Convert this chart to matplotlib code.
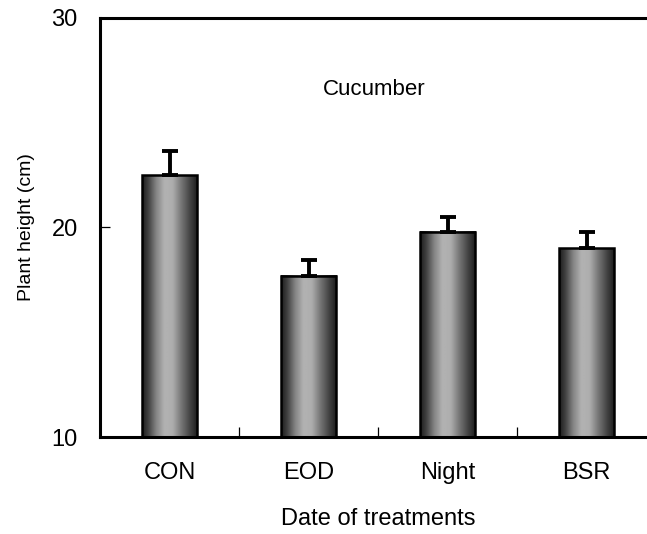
import numpy as np
import matplotlib.pyplot as plt
from matplotlib.patches import Rectangle

plt.rcParams['font.family'] = ['Liberation Sans', 'DejaVu Sans']

# Plant height per treatment (cm) and standard errors
treatments = ['CON', 'EOD', 'Night', 'BSR']
heights = [22.5, 17.7, 19.8, 19.0]
errors = [1.15, 0.75, 0.68, 0.8]

fig = plt.figure(figsize=(6.47, 5.34), dpi=100)
ax = fig.add_axes([100 / 647, 97 / 534, 556 / 647, 419 / 534])

x = np.arange(len(treatments))
width = 0.4

# shaded cylinder-look fill: dark edges, light centre
stops = [0.0, 0.1, 0.25, 0.4, 0.55, 0.72, 0.88, 1.0]
tones = [0.12, 0.25, 0.52, 0.70, 0.68, 0.45, 0.25, 0.12]
grad = np.interp(np.linspace(0, 1, 40), stops, tones)[np.newaxis, :]

for xi, h in zip(x, heights):
    x0, x1 = xi - width / 2, xi + width / 2
    ax.imshow(grad, extent=[x0, x1, 10, h], aspect='auto', cmap='gray',
              vmin=0, vmax=1, interpolation='bilinear', zorder=2)
    ax.add_patch(Rectangle((x0, 10), width, h - 10, fill=False,
                           edgecolor='black', linewidth=1.8, zorder=3))

ax.errorbar(x, heights, yerr=[np.zeros(len(errors)), errors], fmt='none',
            ecolor='black', elinewidth=2.8, capsize=6, capthick=2.8, zorder=4)

ax.set_xlim(-0.5, len(treatments) - 0.5)
ax.set_ylim(10, 30)

ax.set_yticks([10, 20, 30])
ax.set_xticks(x)
ax.set_xticklabels(treatments)
ax.set_xticks(np.arange(0.5, len(treatments) - 0.5, 1), minor=True)
ax.tick_params(axis='x', which='major', length=0, pad=18, labelsize=17)
ax.tick_params(axis='x', which='minor', direction='in', length=7, width=0.9)
ax.tick_params(axis='y', direction='in', length=7, width=0.9, pad=16,
               labelsize=17)

for side in ['left', 'bottom', 'top']:
    ax.spines[side].set_linewidth(2.2)
ax.spines['right'].set_visible(False)

ax.set_xlabel('Date of treatments', fontsize=17, labelpad=17)
ax.set_ylabel('Plant height (cm)', fontsize=14, labelpad=12)
ax.text(1.47, 26.6, 'Cucumber', fontsize=16, ha='center', va='center')

fig.savefig('out.png', dpi=100)
